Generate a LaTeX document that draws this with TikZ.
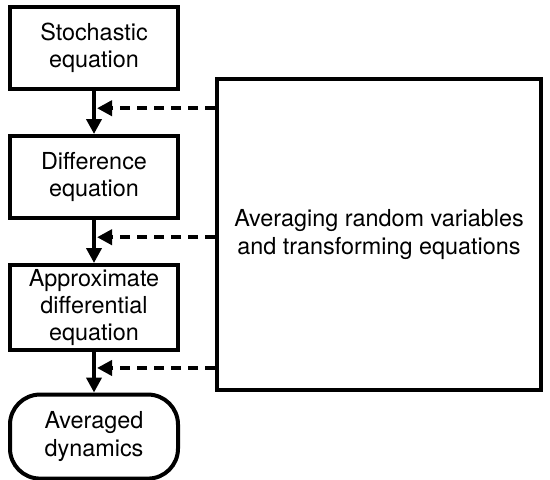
\documentclass[tikz,border=0pt]{standalone}
\usepackage{fontspec}
\setmainfont{TeX Gyre Heros}
\usepackage{tikz}
\usetikzlibrary{positioning,arrows.meta,calc}

\begin{document}
\begin{tikzpicture}[x=0.5pt,y=-0.5pt,line width=2pt,node distance=21.5pt,
                    >={Triangle[length=7.5pt,width=7.5pt]},
                    eq node/.style={rectangle,draw,align=center,
                    font=\fontsize{11.7}{13.6}\selectfont,
                    minimum width=84pt,minimum height=41pt,inner sep=2pt},
                    end node/.style={eq node,rounded corners=15pt},
                    avg arrow/.style={->,line width=2pt,dash pattern=on 5pt off 3.5pt,shorten >=0.5pt}]

\useasboundingbox (0,0) rectangle (550,479);

\node[eq node] (stoch) at (94,48) {Stochastic\\equation};
\node[eq node] (diff) [below=of stoch] {Difference\\equation};
\node[eq node,minimum height=42pt] (approx) [below=of diff] {Approximate\\differential\\equation};
\node[end node,minimum height=42pt] (avgdyn) [below=20.5pt of approx] {Averaged\\dynamics};

\node[eq node,minimum width=162pt,minimum height=155.5pt] (avg) at (379,234.5)
    {Averaging random variables\\and transforming equations};

\path[->]
    (stoch) edge (diff)
    (diff) edge (approx)
    (approx) edge (avgdyn);

% dashed feeds into the main chain
\coordinate (m1) at ($(stoch.south)!0.4!(diff.north)$);
\coordinate (m2) at ($(diff.south)!0.4!(approx.north)$);
\coordinate (m3) at ($(approx.south)!0.4!(avgdyn.north)$);
\foreach \m in {m1,m2,m3}
    \draw[avg arrow] (avg.west |- \m) -- ($(\m)+(1pt,0)$);

\end{tikzpicture}
\end{document}
